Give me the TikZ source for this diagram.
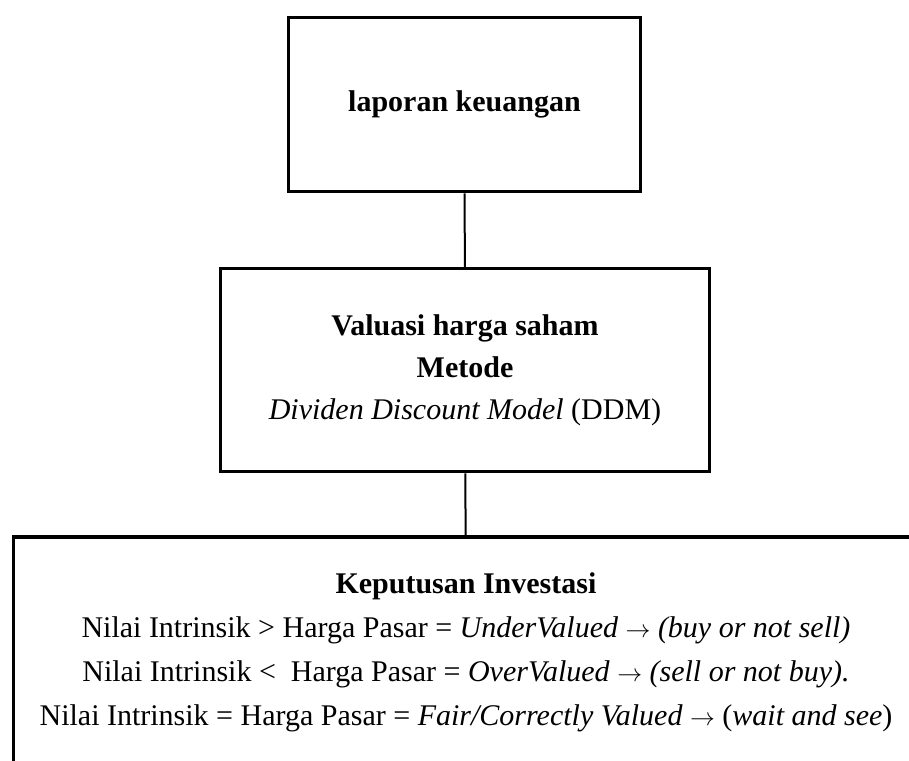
\documentclass[tikz,border=0pt]{standalone}
\usepackage{fontspec}
\setmainfont{Liberation Serif}
\usepackage{tikz}

\tikzset{
  box/.style={draw, line width=3.5pt, align=center, inner sep=0pt},
  link/.style={line width=2pt}
}

\begin{document}
\begin{tikzpicture}[x=1pt,y=-1pt]
\useasboundingbox (0,0) rectangle (909,760);

\node[box, minimum width=352pt, minimum height=174pt, font=\fontsize{30}{42}\selectfont] (lk) at (464.5,104.5) {\textbf{laporan keuangan}};

\node[box, minimum width=489pt, minimum height=203pt, font=\fontsize{30}{42}\selectfont] (vh) at (465,370)
  {\textbf{Valuasi harga saham}\\ \textbf{Metode}\\ \textit{Dividen Discount Model} (DDM)};

\node[box, minimum width=905pt, minimum height=230pt, font=\fontsize{30}{44}\selectfont] (ki) at (466,652)
  {\textbf{Keputusan Investasi}\\
   Nilai Intrinsik > Harga Pasar = \textit{UnderValued} $\rightarrow$ \textit{(buy or not sell)}\\
   Nilai Intrinsik <\ \ Harga Pasar = \textit{OverValued} $\rightarrow$ \textit{(sell or not buy).}\\
   Nilai Intrinsik = Harga Pasar = \textit{Fair/Correctly Valued} $\rightarrow$ (\textit{wait and see})};

\draw[link] (lk) -- (vh);
\draw[link] (vh) -- (ki);
\end{tikzpicture}
\end{document}
